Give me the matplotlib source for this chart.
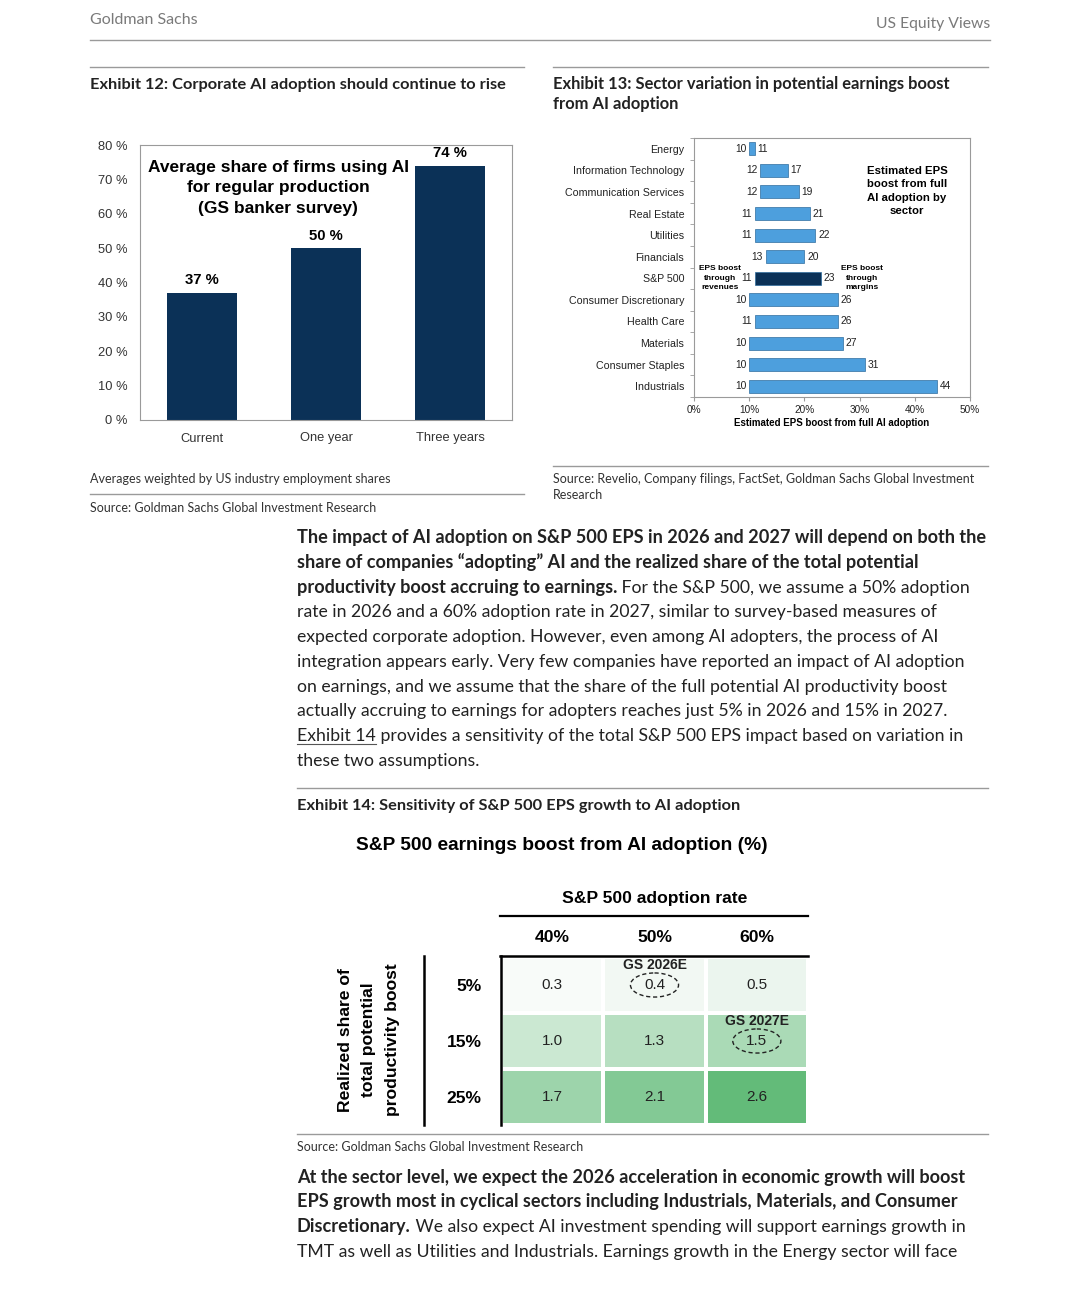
import numpy as np
import matplotlib.pyplot as plt
from matplotlib.patches import Ellipse
from matplotlib.lines import Line2D
from matplotlib.colors import LinearSegmentedColormap, Normalize

W, H = 1066, 1289
BODY = "Lato"
CHART = "Liberation Sans"

# Exhibit 12
periods = ["Current", "One year", "Three years"]
share_using_ai = [37, 50, 74]

# Exhibit 13
sectors = ["Energy", "Information Technology", "Communication Services", "Real Estate",
           "Utilities", "Financials", "S&P 500", "Consumer Discretionary", "Health Care",
           "Materials", "Consumer Staples", "Industrials"]
boost_revenues = [10, 12, 12, 11, 11, 13, 11, 10, 11, 10, 10, 10]
boost_total = [11, 17, 19, 21, 22, 20, 23, 26, 26, 27, 31, 44]

# Exhibit 14
adoption_rates = ["40%", "50%", "60%"]
realized_shares = ["5%", "15%", "25%"]
eps_boost = np.array([[0.3, 0.4, 0.5],
                      [1.0, 1.3, 1.5],
                      [1.7, 2.1, 2.6]])

fig = plt.figure(figsize=(W / 100, H / 100), dpi=100)
rend = fig.canvas.get_renderer()


def fx(x):
    return x / W


def fy(y):
    return 1 - y / H


def axes_px(x0, y0, x1, y1):
    return fig.add_axes([fx(x0), fy(y1), (x1 - x0) / W, (y1 - y0) / H])


def hline(x0, x1, y, color="#9a9a9a", lw=1.0):
    fig.add_artist(Line2D([fx(x0), fx(x1)], [fy(y), fy(y)], color=color, lw=lw))


def vline(x, y0, y1, color="black", lw=1.0):
    fig.add_artist(Line2D([fx(x), fx(x)], [fy(y0), fy(y1)], color=color, lw=lw))


BOLD_SIZE = 13.1
REG_SIZE = 12.7


def runs(x, y, parts, color="#222222"):
    # parts: (text, weight, underline)
    px = x
    for part in parts:
        s, w = part[0], part[1]
        size = BOLD_SIZE if w == "bold" else REG_SIZE
        t = fig.text(fx(px), fy(y), s, fontsize=size, fontweight=w, family=BODY,
                     color=color, va="baseline", ha="left")
        bb = t.get_window_extent(renderer=rend)
        if len(part) > 2 and part[2]:
            hline(px, px + bb.width, y + 3, color="#555555", lw=0.8)
        px += bb.width


# header
fig.text(fx(90), fy(20), "Goldman Sachs", family=BODY, fontsize=11.5, color="#7a7a7a", va="center")
fig.text(fx(990), fy(24), "US Equity Views", family=BODY, fontsize=11.3, color="#7a7a7a",
         va="center", ha="right")
hline(90, 990, 40)
hline(90, 524, 67)
hline(553, 988, 67)

fig.text(fx(90), fy(85), "Exhibit 12: Corporate AI adoption should continue to rise",
         family=BODY, fontsize=11.8, fontweight="bold", color="#222222", va="center")
fig.text(fx(553), fy(94), "Exhibit 13: Sector variation in potential earnings boost\nfrom AI adoption",
         family=BODY, fontsize=11.9, fontweight="bold", color="#222222", va="center",
         linespacing=1.3)

# ---- Exhibit 12 ----
ax1 = axes_px(140, 145, 512, 420)
xpos = np.arange(len(periods))
ax1.bar(xpos, share_using_ai, width=0.565, color="#0b3157")
ax1.set_xlim(-0.5, 2.5)
ax1.set_ylim(0, 80)
ax1.set_yticks(range(0, 81, 10))
ax1.set_yticklabels([f"{v} %" for v in range(0, 81, 10)], family=CHART, fontsize=9.3, color="#333333")
ax1.set_xticks(xpos)
ax1.set_xticklabels(periods, family=CHART, fontsize=9.3, color="#333333")
ax1.tick_params(length=0)
ax1.tick_params(axis="y", pad=9)
ax1.tick_params(axis="x", pad=9)
for s in ax1.spines.values():
    s.set_color("#9a9a9a")
for xi, v in zip(xpos, share_using_ai):
    ax1.annotate(f"{v} %", (xi, v), xytext=(0, 4), textcoords="offset points",
                 ha="center", va="bottom", family=CHART, fontsize=10.7, fontweight="bold")
ax1.text(0.371, 0.844, "Average share of firms using AI\nfor regular production\n(GS banker survey)",
         transform=ax1.transAxes, ha="center", va="center", family=CHART, fontsize=12.5,
         fontweight="bold", linespacing=1.45)

fig.text(fx(90), fy(479), "Averages weighted by US industry employment shares", family=BODY,
         fontsize=9, color="#333333", va="center")
hline(90, 524, 494)
fig.text(fx(90), fy(508), "Source: Goldman Sachs Global Investment Research", family=BODY,
         fontsize=9, color="#333333", va="center")

# ---- Exhibit 13 ----
ax2 = axes_px(694, 138, 970, 397)
ypos = np.arange(len(sectors))
widths = [t - r for t, r in zip(boost_total, boost_revenues)]
colors = ["#0b3157" if s == "S&P 500" else "#4d9fdd" for s in sectors]
ax2.barh(ypos, widths, left=boost_revenues, height=0.6, color=colors,
         edgecolor="#2f6d9e", linewidth=0.5)
ax2.set_xlim(0, 50)
ax2.set_ylim(len(sectors) - 0.5, -0.5)
ax2.set_yticks(ypos)
ax2.set_yticklabels(sectors, family=CHART, fontsize=7.7, color="#222222")
ax2.set_yticks(np.arange(len(sectors) + 1) - 0.5, minor=True)
ax2.tick_params(axis="y", which="major", length=0, pad=7)
ax2.tick_params(axis="y", which="minor", length=3, color="#9a9a9a")
ax2.set_xticks(range(0, 51, 10))
ax2.set_xticklabels([f"{v}%" for v in range(0, 51, 10)], family=CHART, fontsize=7.2, color="#222222")
ax2.tick_params(axis="x", length=3, color="#9a9a9a", pad=3)
ax2.set_xlabel("Estimated EPS boost from full AI adoption", family=CHART, fontsize=7,
               fontweight="bold", labelpad=2)
for s in ax2.spines.values():
    s.set_color("#9a9a9a")
for yi, r, t in zip(ypos, boost_revenues, boost_total):
    ax2.annotate(str(r), (r, yi), xytext=(-2, 0), textcoords="offset points", ha="right",
                 va="center", family=CHART, fontsize=7.4, color="#222222")
    ax2.annotate(str(t), (t, yi), xytext=(2, 0), textcoords="offset points", ha="left",
                 va="center", family=CHART, fontsize=7.4, color="#222222")
ax2.text(4.7, 6, "EPS boost\nthrough\nrevenues", ha="center", va="center", family=CHART,
         fontsize=6, fontweight="bold", linespacing=1.5)
ax2.text(30.5, 6, "EPS boost\nthrough\nmargins", ha="center", va="center", family=CHART,
         fontsize=6, fontweight="bold", linespacing=1.5)
ax2.text(0.772, 0.795, "Estimated EPS\nboost from full\nAI adoption by\nsector", transform=ax2.transAxes,
         ha="center", va="center", family=CHART, fontsize=8.2, fontweight="bold", linespacing=1.45)

hline(553, 988, 466)
fig.text(fx(553), fy(487), "Source: Revelio, Company filings, FactSet, Goldman Sachs Global Investment\nResearch",
         family=BODY, fontsize=9, color="#333333", va="center", linespacing=1.4)

# ---- body paragraph 1 ----
para1 = [
    [("The impact of AI adoption on S&P 500 EPS in 2026 and 2027 will depend on both the", "bold")],
    [("share of companies “adopting” AI and the realized share of the total potential", "bold")],
    [("productivity boost accruing to earnings.", "bold"), (" For the S&P 500, we assume a 50% adoption", "normal")],
    [("rate in 2026 and a 60% adoption rate in 2027, similar to survey-based measures of", "normal")],
    [("expected corporate adoption. However, even among AI adopters, the process of AI", "normal")],
    [("integration appears early. Very few companies have reported an impact of AI adoption", "normal")],
    [("on earnings, and we assume that the share of the full potential AI productivity boost", "normal")],
    [("actually accruing to earnings for adopters reaches just 5% in 2026 and 15% in 2027.", "normal")],
    [("Exhibit 14", "normal", True), (" provides a sensitivity of the total S&P 500 EPS impact based on variation in", "normal")],
    [("these two assumptions.", "normal")],
]
for i, line in enumerate(para1):
    runs(297, 543 + i * 24.75, line)

hline(297, 988, 788)
fig.text(fx(297), fy(806), "Exhibit 14: Sensitivity of S&P 500 EPS growth to AI adoption",
         family=BODY, fontsize=11.8, fontweight="bold", color="#222222", va="center")
fig.text(fx(562), fy(845), "S&P 500 earnings boost from AI adoption (%)", family=CHART,
         fontsize=13.8, fontweight="bold", ha="center", va="center")
fig.text(fx(655), fy(899), "S&P 500 adoption rate", family=CHART, fontsize=12.6,
         fontweight="bold", ha="center", va="center")

# ---- Exhibit 14 heatmap ----
ax3 = axes_px(501, 957, 808, 1125)
cmap = LinearSegmentedColormap.from_list("grn", ["#f8fbf9", "#63bb79"])
ax3.pcolormesh(np.arange(4) - 0.5, np.arange(4) - 0.5, eps_boost, cmap=cmap,
               norm=Normalize(0.3, 2.6), edgecolors="white", linewidth=1.6)
ax3.set_xlim(-0.5, 2.5)
ax3.set_ylim(2.5, -0.5)
for s in ax3.spines.values():
    s.set_visible(False)
ax3.xaxis.tick_top()
ax3.set_xticks(range(3))
ax3.set_xticklabels(adoption_rates, family=CHART, fontsize=12.6, fontweight="bold")
ax3.set_yticks(range(3))
ax3.set_yticklabels(realized_shares, family=CHART, fontsize=12.6, fontweight="bold")
ax3.tick_params(length=0)
ax3.tick_params(axis="x", pad=9)
ax3.tick_params(axis="y", pad=14)
for r in range(3):
    for c in range(3):
        ax3.text(c, r, f"{eps_boost[r, c]:.1f}", ha="center", va="center", family=CHART,
                 fontsize=11, color="#222222")
for (c, r, lab) in [(1, 0, "GS 2026E"), (2, 1, "GS 2027E")]:
    ax3.add_patch(Ellipse((c, r), 0.47, 0.43, fill=False, ls=(0, (3, 2)), lw=1.0, color="#222222"))
    ax3.text(c, r - 0.36, lab, ha="center", va="center", family=CHART, fontsize=10,
             fontweight="bold", color="#222222")

hline(500, 808, 916, color="black", lw=1.6)
hline(500, 808, 956, color="black", lw=1.8)
vline(501, 956, 1125, color="black", lw=1.8)
vline(424, 956, 1125, color="black", lw=1.8)
fig.text(fx(369), fy(1040), "Realized share of\ntotal potential\nproductivity boost", family=CHART,
         fontsize=12.6, fontweight="bold", rotation=90, ha="center", va="center",
         multialignment="center", linespacing=1.7)

hline(297, 988, 1134)
fig.text(fx(297), fy(1147), "Source: Goldman Sachs Global Investment Research", family=BODY,
         fontsize=9, color="#333333", va="center")

para2 = [
    [("At the sector level, we expect the 2026 acceleration in economic growth will boost", "bold")],
    [("EPS growth most in cyclical sectors including Industrials, Materials, and Consumer", "bold")],
    [("Discretionary.", "bold"), (" We also expect AI investment spending will support earnings growth in", "normal")],
    [("TMT as well as Utilities and Industrials. Earnings growth in the Energy sector will face", "normal")],
]
for i, line in enumerate(para2):
    runs(297, 1183 + i * 24.5, line)

fig.savefig("out.png", dpi=100)
